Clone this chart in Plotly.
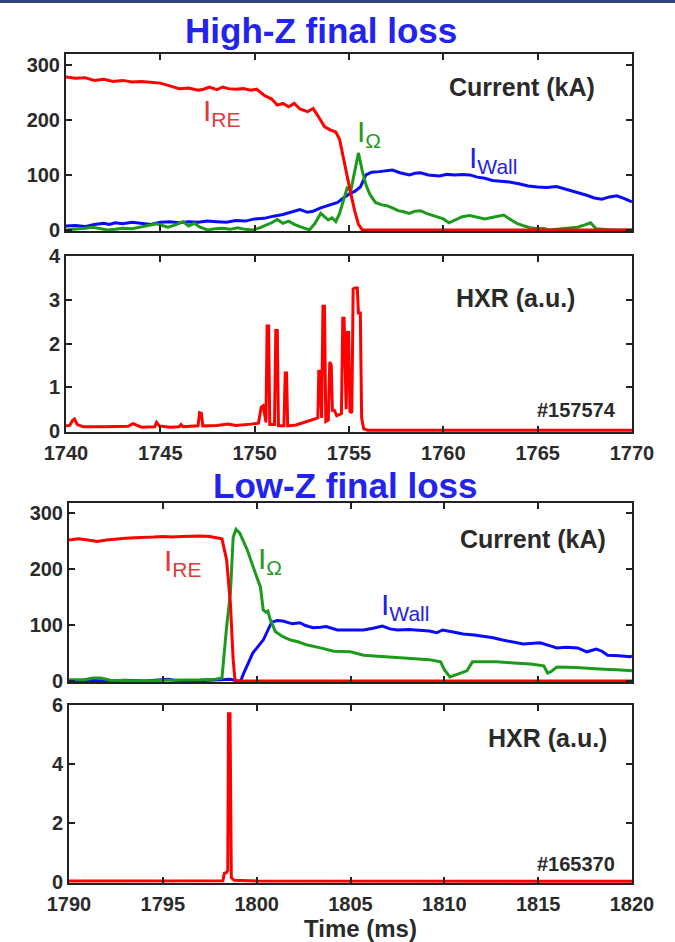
import plotly.graph_objects as go

W, H = 675, 942

# ---------------- High-Z (#157574) current panel ----------------
hz_re_t = [1740.0, 1740.5, 1741.0, 1741.5, 1742.0, 1742.5, 1743.0, 1743.5, 1744.0, 1744.5,
           1745.0, 1745.5, 1746.0, 1746.5, 1747.0, 1747.3, 1747.6, 1748.0, 1748.3, 1748.6,
           1749.0, 1749.4, 1749.8, 1750.1, 1750.5, 1750.9, 1751.2, 1751.5, 1751.8, 1752.1,
           1752.4, 1752.8, 1753.1, 1753.4, 1753.7, 1754.0, 1754.3, 1754.5, 1754.7, 1754.9,
           1755.1, 1755.3, 1755.5, 1755.7, 1770.0]
hz_re_v = [278, 276, 277, 272, 274, 270, 272, 269, 270, 268,
           267, 262, 257, 258, 254, 256, 260, 255, 260, 257,
           256, 257, 254, 256, 245, 238, 227, 230, 224, 230,
           220, 215, 221, 205, 188, 182, 178, 165, 130, 100,
           65, 35, 10, 0, 0]

hz_wall_t = [1740.0, 1740.5, 1741.0, 1741.5, 1742.0, 1742.3, 1742.6, 1743.0, 1743.5, 1744.0,
             1744.5, 1745.0, 1745.5, 1746.0, 1746.5, 1747.0, 1747.5, 1748.0, 1748.5, 1749.0,
             1749.5, 1750.0, 1750.5, 1751.0, 1751.5, 1752.0, 1752.4, 1752.8, 1753.1, 1753.5,
             1754.0, 1754.4, 1754.7, 1755.0, 1755.3, 1755.6, 1755.9, 1756.2, 1756.6, 1757.0,
             1757.3, 1757.7, 1758.2, 1758.5, 1758.8, 1759.2, 1759.5, 1759.8, 1760.2, 1760.6,
             1761.0, 1761.4, 1761.8, 1762.2, 1762.6, 1763.0, 1763.5, 1764.0, 1764.5, 1765.0,
             1765.5, 1766.0, 1766.4, 1766.8, 1767.2, 1767.6, 1768.0, 1768.4, 1768.8, 1769.2,
             1769.6, 1770.0]
hz_wall_v = [7, 8, 6, 10, 12, 10, 13, 11, 14, 12,
             10, 14, 15, 13, 15, 14, 16, 15, 14, 17,
             16, 20, 21, 25, 28, 33, 37, 32, 34, 40,
             46, 50, 58, 65, 70, 78, 100, 105, 106, 108,
             109, 104, 100, 103, 104, 100, 99, 98, 101, 100,
             101, 100, 96, 94, 90, 89, 87, 84, 80, 78,
             77, 79, 75, 72, 67, 63, 58, 56, 60, 62,
             57, 51]

hz_ohm_t = [1740.0, 1740.5, 1741.0, 1741.4, 1741.8, 1742.2, 1742.6, 1743.0, 1743.5, 1744.0,
            1744.4, 1744.8, 1745.1, 1745.4, 1745.8, 1746.2, 1746.5, 1746.8, 1747.1, 1747.5,
            1747.9, 1748.3, 1748.7, 1749.1, 1749.5, 1749.9, 1750.3, 1750.6, 1750.9, 1751.2,
            1751.5, 1751.8, 1752.1, 1752.4, 1752.7, 1752.9, 1753.2, 1753.5, 1753.7, 1753.9,
            1754.1, 1754.3, 1754.5, 1754.7, 1754.9, 1755.1, 1755.3, 1755.5, 1755.7, 1755.9,
            1756.1, 1756.4, 1756.7, 1757.0, 1757.3, 1757.6, 1757.9, 1758.2, 1758.5, 1758.8,
            1759.1, 1759.4, 1759.7, 1760.0, 1760.3, 1760.6, 1761.0, 1761.4, 1761.8, 1762.2,
            1762.5, 1762.9, 1763.2, 1763.6, 1763.9, 1764.3, 1764.6, 1765.0, 1765.3, 1765.6,
            1766.0, 1766.4, 1766.8, 1767.1, 1767.5, 1767.8, 1768.1, 1768.5, 1769.0, 1770.0]
hz_ohm_v = [0, 1, 3, 5, 2, 0, 1, 3, 2, 6,
            9, 11, 8, 5, 9, 15, 7, 12, 5, 0,
            2, 3, 1, 4, 1, 0, 4, 8, 13, 19,
            12, 16, 10, 6, 2, 0, 12, 30, 24, 18,
            22, 15, 30, 55, 76, 72, 103, 140, 108, 82,
            65, 50, 46, 44, 40, 35, 33, 30, 34, 35,
            30, 27, 24, 20, 13, 18, 24, 26, 23, 20,
            22, 25, 27, 18, 12, 7, 4, 2, 3, 0,
            1, 2, 4, 5, 9, 13, 2, 1, 0, 0]

# ---------------- High-Z HXR ----------------
hz_hxr_t = [1740.0, 1740.2, 1740.35, 1740.45, 1740.6, 1740.9, 1742.0, 1743.3, 1743.55, 1743.75,
            1744.0, 1744.7, 1744.8, 1744.95, 1745.5, 1746.0, 1746.1, 1746.2, 1747.0, 1747.08,
            1747.18, 1747.25, 1748.0, 1748.6, 1749.0, 1749.8, 1750.2, 1750.35, 1750.45, 1750.6,
            1750.66, 1750.74, 1750.8, 1751.05, 1751.12, 1751.2, 1751.26, 1751.55, 1751.62, 1751.69,
            1751.75, 1752.2, 1752.8, 1753.2, 1753.35, 1753.4, 1753.47, 1753.55, 1753.62, 1753.7,
            1753.77, 1753.9, 1753.98, 1754.06, 1754.12, 1754.2, 1754.35, 1754.5, 1754.6, 1754.67,
            1754.74, 1754.85, 1754.92, 1754.98, 1755.05, 1755.15, 1755.22, 1755.32, 1755.44, 1755.5,
            1755.6, 1755.67, 1755.78, 1756.0, 1770.0]
hz_hxr_v = [0.12, 0.13, 0.25, 0.28, 0.15, 0.10, 0.10, 0.11, 0.17, 0.14,
            0.09, 0.10, 0.20, 0.12, 0.09, 0.10, 0.15, 0.10, 0.12, 0.42,
            0.40, 0.12, 0.13, 0.16, 0.13, 0.16, 0.18, 0.55, 0.58, 0.20,
            2.40, 2.40, 0.15, 0.15, 2.30, 2.30, 0.12, 0.12, 1.33, 1.33,
            0.12, 0.14, 0.22, 0.27, 0.30, 1.37, 1.37, 0.30, 2.85, 2.85,
            0.22, 0.25, 1.58, 1.50, 0.45, 0.50, 0.35, 0.38, 0.40, 2.58,
            2.58, 0.50, 2.25, 2.25, 0.45, 0.42, 3.25, 3.27, 3.27, 2.70,
            2.70, 0.30, 0.05, 0.02, 0.02]

# ---------------- Low-Z (#165370) current panel ----------------
lz_re_t = [1790.0, 1790.5, 1791.0, 1791.5, 1792.0, 1792.5, 1793.0, 1793.5, 1794.0, 1794.5,
           1795.0, 1795.5, 1796.0, 1796.5, 1797.0, 1797.5, 1797.9, 1798.15, 1798.4, 1798.6,
           1798.75, 1798.85, 1820.0]
lz_re_v = [252, 254, 252, 249, 252, 254, 255, 256, 256, 257,
           258, 257, 258, 259, 259, 258, 256, 254, 216, 139,
           37, 0, 0]

lz_ohm_t = [1790.0, 1790.8, 1791.3, 1791.7, 1792.2, 1793.0, 1794.0, 1795.0, 1796.0, 1797.0,
            1797.8, 1798.15, 1798.4, 1798.6, 1798.75, 1798.9, 1799.1, 1799.5, 1800.0, 1800.2,
            1800.35, 1800.5, 1800.6, 1800.7, 1801.0, 1801.4, 1801.8, 1802.2, 1802.7, 1803.0,
            1803.4, 1804.1, 1805.0, 1805.7, 1806.5, 1807.5, 1808.3, 1809.2, 1809.8, 1810.0,
            1810.3, 1810.8, 1811.2, 1811.5, 1812.0, 1812.8, 1813.7, 1814.6, 1815.3, 1815.5,
            1815.7, 1816.0, 1817.0, 1817.4, 1818.5, 1819.2, 1820.0]
lz_ohm_v = [2, 2, 5, 5, 1, 0, 0, 1, 1, 2,
            3, 5, 97, 157, 257, 271, 264, 234, 186, 168,
            127, 123, 125, 112, 88, 79, 73, 70, 64, 62,
            59, 53, 52, 46, 44, 41, 40, 38, 34, 20,
            7, 13, 18, 34, 34, 34, 32, 30, 27, 14,
            17, 25, 24, 23, 21, 20, 18]

lz_wall_t = [1790.0, 1791.0, 1792.0, 1793.0, 1794.0, 1795.0, 1795.3, 1795.6, 1796.5, 1797.5,
             1798.3, 1798.6, 1799.0, 1799.15, 1799.3, 1799.8, 1800.35, 1800.8, 1801.1, 1801.4,
             1801.9, 1802.3, 1802.6, 1803.0, 1803.4, 1803.7, 1804.3, 1805.0, 1805.7, 1806.2,
             1806.7, 1807.1, 1807.5, 1808.1, 1808.7, 1809.2, 1809.6, 1809.9, 1810.4, 1811.0,
             1811.6, 1812.1, 1812.6, 1813.1, 1813.6, 1814.2, 1814.6, 1815.1, 1815.6, 1816.0,
             1816.5, 1817.1, 1817.6, 1818.1, 1818.4, 1818.7, 1819.3, 1819.9, 1820.0]
lz_wall_v = [0, 1, 0, 1, 0, 2, 3, 1, 0, 1,
             2, 3, 0, 0, 13, 50, 73, 105, 108, 107,
             102, 104, 99, 95, 96, 97, 91, 91, 91, 94,
             98, 93, 91, 92, 91, 89, 86, 91, 88, 84,
             82, 80, 77, 73, 70, 66, 67, 68, 63, 59,
             60, 59, 52, 57, 53, 46, 45, 43, 45]

# ---------------- Low-Z HXR ----------------
lz_hxr_t = [1790.0, 1795.0, 1798.2, 1798.28, 1798.4, 1798.46, 1798.5, 1798.58, 1798.65, 1798.8, 1800.0, 1820.0]
lz_hxr_v = [0.04, 0.04, 0.05, 0.30, 0.33, 0.40, 5.70, 5.70, 0.15, 0.06, 0.04, 0.03]

hz_ticks = [1740, 1745, 1750, 1755, 1760, 1765, 1770]
lz_ticks = [1790, 1795, 1800, 1805, 1810, 1815, 1820]
cur_ticks = [0, 100, 200, 300]
hz_hxr_ticks = [0, 1, 2, 3, 4]
lz_hxr_ticks = [0, 2, 4, 6]

RED, GREEN, BLUE = "#ff0000", "#1c9a1c", "#0a0aff"
FONT = "Liberation Sans, Arial, sans-serif"
AX = "#222222"
TXT = "#2a2a2a"

fig = go.Figure()
def line(t, v, color, xa, ya):
    fig.add_trace(go.Scatter(x=t, y=v, mode="lines", line=dict(color=color, width=3),
                             xaxis=xa, yaxis=ya, showlegend=False, hoverinfo="skip"))

line(hz_wall_t, hz_wall_v, BLUE, "x", "y")
line(hz_ohm_t, hz_ohm_v, GREEN, "x", "y")
line(hz_re_t, hz_re_v, RED, "x", "y")
line(hz_hxr_t, hz_hxr_v, RED, "x2", "y2")
line(lz_wall_t, lz_wall_v, BLUE, "x3", "y3")
line(lz_ohm_t, lz_ohm_v, GREEN, "x3", "y3")
line(lz_re_t, lz_re_v, RED, "x3", "y3")
line(lz_hxr_t, lz_hxr_v, RED, "x4", "y4")

def px(x): return x / W
def py(y): return 1 - y / H

TICKFONT = dict(family=FONT, size=20, color=TXT, weight="bold")

def xax(x0, x1, rng, ticks, labels, anchor):
    return dict(domain=[px(x0), px(x1)], range=rng, tickvals=ticks, showticklabels=labels,
                ticks="inside", ticklen=6, tickwidth=1.5, tickcolor=AX,
                showline=True, linecolor=AX, linewidth=2, mirror="ticks",
                showgrid=False, zeroline=False, anchor=anchor, fixedrange=True,
                automargin=False, ticklabelstandoff=2, tickfont=TICKFONT)

def yax(y0, y1, rng, ticks, anchor):
    return dict(domain=[py(y1), py(y0)], range=rng, tickvals=ticks,
                ticks="inside", ticklen=6, tickwidth=1.5, tickcolor=AX,
                showline=True, linecolor=AX, linewidth=2, mirror="ticks",
                showgrid=False, zeroline=False, anchor=anchor, fixedrange=True,
                automargin=False, tickfont=TICKFONT)

fig.update_layout(
    width=W, height=H, margin=dict(l=0, r=0, t=0, b=0, pad=0, autoexpand=False),
    paper_bgcolor="white", plot_bgcolor="white",
    font=dict(family=FONT, color=TXT),
    xaxis=xax(66, 632, [1740, 1770], hz_ticks, False, "y"),
    yaxis=yax(54, 231, [-2, 320], cur_ticks, "x"),
    xaxis2=xax(66, 632, [1740, 1770], hz_ticks, True, "y2"),
    yaxis2=yax(256, 432, [-0.02, 4], hz_hxr_ticks, "x2"),
    xaxis3=xax(69, 632, [1790, 1820], lz_ticks, False, "y3"),
    yaxis3=yax(503, 682, [-2, 318], cur_ticks, "x3"),
    xaxis4=xax(69, 632, [1790, 1820], lz_ticks, True, "y4"),
    yaxis4=yax(705, 883, [-0.03, 6], lz_hxr_ticks, "x4"),
)

def note(text, x, y, size, color, bold=True, xanchor="center"):
    if bold:
        text = "<b>" + text + "</b>"
    fig.add_annotation(text=text, x=px(x), y=py(y), xref="paper", yref="paper",
                       xanchor=xanchor, yanchor="middle", showarrow=False,
                       font=dict(family=FONT, size=size, color=color))

TITLE = "#2323ee"
note("High-Z final loss", 321, 31, 35, TITLE)
note("Low-Z final loss", 345, 485, 35, TITLE)
note("Current (kA)", 522, 87, 25, TXT)
note("Current (kA)", 533, 539, 25, TXT)
note("HXR (a.u.)", 515, 298, 25, TXT)
note("HXR (a.u.)", 547, 738, 25, TXT)
note("#157574", 576, 410, 20, TXT)
note("#165370", 576, 864, 20, TXT)
note("Time (ms)", 360, 928, 24, TXT)

LRED, LGREEN, LBLUE = "#e23a3a", "#259a25", "#2222e6"
note("I<sub>RE</sub>", 201, 113, 30, LRED, bold=False, xanchor="left")
note("I<sub>Ω</sub>", 355, 134, 30, LGREEN, bold=False, xanchor="left")
note("I<sub>Wall</sub>", 467, 160, 30, LBLUE, bold=False, xanchor="left")
note("I<sub>RE</sub>", 162, 562, 30, LRED, bold=False, xanchor="left")
note("I<sub>Ω</sub>", 256, 560, 30, LGREEN, bold=False, xanchor="left")
note("I<sub>Wall</sub>", 379, 606, 30, LBLUE, bold=False, xanchor="left")

# slide border strip at the very top
fig.add_shape(type="rect", xref="paper", yref="paper", x0=0, x1=1, y0=py(3), y1=1,
              line=dict(width=0), fillcolor="#33457a", layer="above")

fig.write_html("out.html")
